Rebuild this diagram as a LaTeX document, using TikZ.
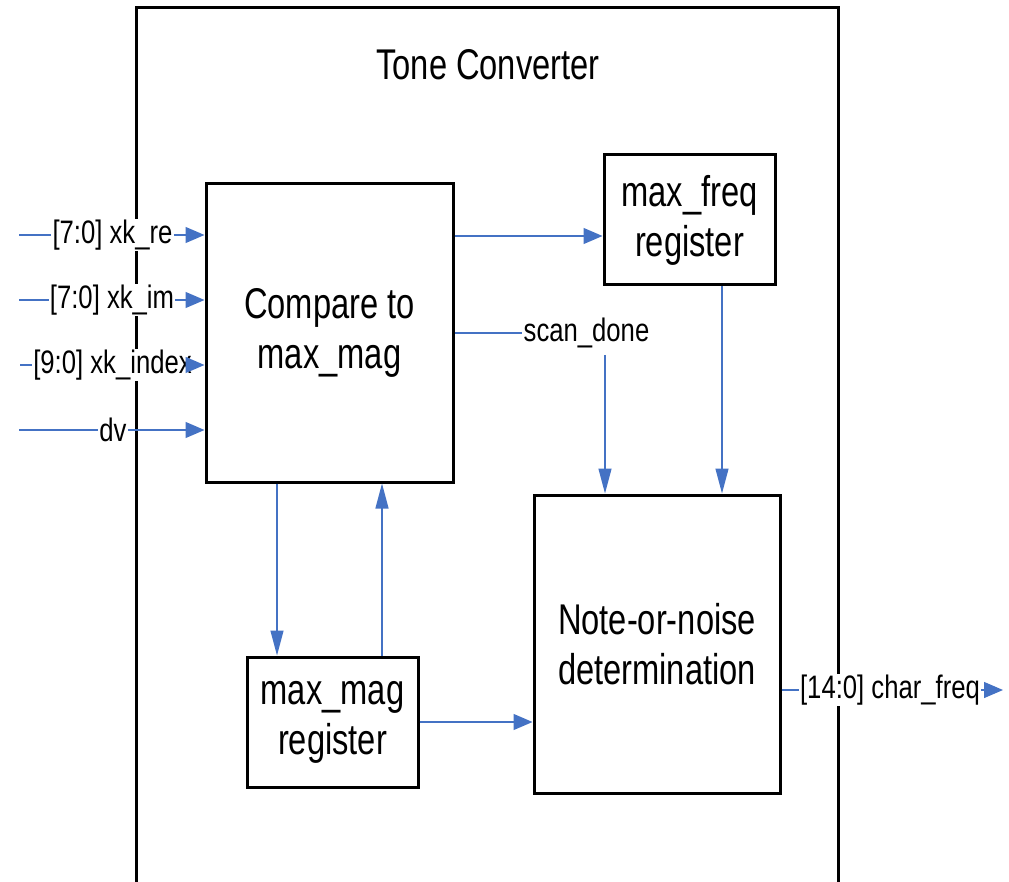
\documentclass[tikz,border=0pt]{standalone}
\usepackage{fontspec}
\setmainfont{Liberation Sans}
\newfontfamily\blockfont{Liberation Sans}[FakeStretch=0.76]
\newfontfamily\sigfont{Liberation Sans}[FakeStretch=0.79]
\usetikzlibrary{arrows.meta,calc}
\definecolor{wirec}{RGB}{68,114,196}

\tikzset{
  frame/.style={line width=3pt, draw=black},
  block/.style={draw=black, line width=3pt, align=center, inner sep=0pt,
    font=\blockfont\fontsize{43}{50}\selectfont},
  title/.style={inner sep=0pt, font=\blockfont\fontsize{43}{50}\selectfont},
  sig/.style={fill=white, inner sep=1pt, font=\sigfont\fontsize{32.5}{36}\selectfont},
  wire/.style={draw=wirec, line width=1.3pt},
  harrow/.style={wire, -{Triangle[length=19pt,width=16pt]}},
  varrow/.style={wire, -{Triangle[length=25pt,width=13pt]}}
}

\begin{document}
\begin{tikzpicture}[x=1pt,y=-1pt]
\useasboundingbox (0,0) rectangle (1009,882);
\clip (0,0) rectangle (1009,882);

% enclosing module frame (open at the bottom of the page)
\draw[frame] (136,900) -- (136,8) -- (838,8) -- (838,900);
\node[title] (title) at (488,65) {Tone Converter};

% functional blocks
\node[block, minimum width=247pt, minimum height=298pt] (cmp) at (329.5,333) {Compare to\\max\_mag};
\node[block, minimum width=171pt, minimum height=130pt] (mfreq) at (689.5,220) {max\_freq\\register};
\node[block, minimum width=171pt, minimum height=130pt] (mmag) at (332.5,722) {max\_mag\\register};
\node[block, minimum width=246pt, minimum height=298pt] (note) at (657,644) {Note-or-noise\\determination};

% input ports
\node[sig] (lre) at (112.5,235) {[7:0] xk\_re};
\node[sig] (lim) at (112,300) {[7:0] xk\_im};
\node[sig] (lidx) at (112.5,365) {[9:0] xk\_index};
\node[sig] (ldv) at (113,430) {dv};
\coordinate (ire) at (19,235);
\coordinate (iim) at (19,300);
\coordinate (iidx) at (20,365);
\coordinate (idv) at (19,430);
\draw[wire] (ire) -- (lre.west);
\draw[wire] (iim) -- (lim.west);
\draw[wire] (iidx) -- (lidx.west);
\draw[wire] (idv) -- (ldv.west);
\draw[harrow] (lre.east) -- (lre.east -| cmp.west);
\draw[harrow] (lim.east) -- (lim.east -| cmp.west);
\draw[harrow] (lidx.east) -- (lidx.east -| cmp.west);
\draw[harrow] (ldv.east) -- (ldv.east -| cmp.west);

% compare -> max_freq register
\coordinate (r236) at (0,236);
\draw[harrow] (cmp.east |- r236) -- (mfreq.west |- r236);

% scan_done
\node[sig] (sd) at (586.5,333) {scan\_done};
\draw[wire] (cmp.east |- sd.west) -- (sd.west);
\coordinate (sdtop) at (605,355);
\draw[varrow] (sdtop) -- (sdtop |- note.north);

% max_freq register -> decision
\coordinate (mfout) at ([xshift=32.5pt]mfreq.south);
\draw[varrow] (mfout) -- (mfout |- note.north);

% compare <-> max_mag register
\coordinate (cmpdown) at ([xshift=-52.5pt]cmp.south);
\draw[varrow] (cmpdown) -- (cmpdown |- mmag.north);
\coordinate (mmagup) at ([xshift=49.5pt]mmag.north);
\draw[varrow] (mmagup) -- (mmagup |- cmp.south);

% max_mag register -> decision
\draw[harrow] (mmag.east) -- (mmag.east -| note.west);

% output port
\node[sig] (lout) at (890,690) {[14:0] char\_freq};
\coordinate (oend) at (1003,690);
\draw[wire] (note.east |- lout.west) -- (lout.west);
\draw[harrow] (lout.east) -- (oend);
\end{tikzpicture}
\end{document}
